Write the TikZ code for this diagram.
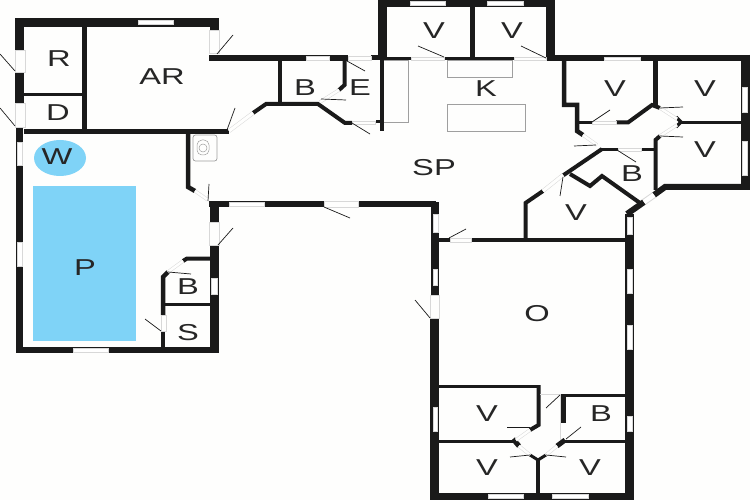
\documentclass[tikz,border=0pt]{standalone}
\usepackage{fontspec}
\setmainfont{Liberation Sans}
\definecolor{wallc}{HTML}{1A1A1A}
\definecolor{paper}{HTML}{FEFEFD}
\definecolor{pool}{HTML}{7FD3F7}
\definecolor{soft}{HTML}{D8D8D8}
\newcommand{\stretched}[1]{\scalebox{1.42}[1]{#1}}
\tikzset{
  wl/.style={draw=wallc,line width=#1,line cap=butt,line join=miter},
  wl/.default=4,
  win/.style={fill=white,draw=soft,line width=.4},
  gap/.style={fill=paper,draw=none},
  dr/.style={draw=soft,line width=.6},
  leaf/.style={draw=wallc,line width=.7},
  fix/.style={draw=gray!75,line width=.7},
  lab/.style={font=\fontsize{23}{23}\selectfont,text=black!85,inner sep=0,anchor=center}
}
\begin{document}
\begin{tikzpicture}[x=1pt,y=-1pt]
\path[use as bounding box,fill=paper] (0,0) rectangle (750,500);
% pool and spa
\fill[pool] (33,186) rectangle (136,341);
\fill[pool] (60,158) ellipse [x radius=26,y radius=18];
% fixtures
\draw[fix,rounded corners=2.5] (193,135) rectangle (217,161);
\draw[fix,line width=.5,rounded corners=5] (197,140) rectangle (209,155);
\draw[fix,line width=.5] (203,148) circle [radius=4];
\draw[fix] (447,60) rectangle (512,77);
\draw[fix] (447,104) rectangle (525,131);
\draw[fix] (384,60) -- (408,60) -- (408,122) -- (376,122);
% west wing outer walls
\draw[wl=9] (19.5,50) -- (19.5,22.5) -- (214,22.5) -- (214,30);
\draw[wl=9] (19.5,72) -- (19.5,103);
\draw[wl=7] (19.5,127) -- (19.5,350);
\draw[wl=6] (16,350) -- (219,350);
\draw[wl=9] (214,245) -- (214,353);
\draw[wl=9] (214,222) -- (214,201);
\draw[wl=6] (209,58) -- (348,58);
\draw[wl=5] (371,58) -- (378,58);
% west wing inner walls
\draw[wl=5] (84.5,25) -- (84.5,131);
\draw[wl=3] (24,94.5) -- (82,94.5);
\draw[wl=5] (24,131.5) -- (229,131.5);
\draw[wl=4.5] (188,132) -- (188,187) -- (195,191);
\draw[wl=6] (209,204) -- (324,204);
\draw[wl=6] (358,204) -- (436,204);
% B / E block
\draw[wl=4] (280,61) -- (280,104);
\draw[wl=4] (253,113) -- (266,104) -- (318,104) -- (345,123) -- (352,123);
\draw[wl=4] (344.5,60) -- (344.5,85) -- (339,90);
% west small rooms
\draw[wl=4.5] (163,347) -- (163,331);
\draw[wl=4.5] (163,315) -- (163,277) -- (168,272);
\draw[wl=4] (183,261) -- (187,258.5) -- (210,258.5);
\draw[wl=3] (165,304.5) -- (210,304.5);
% north rooms
\draw[wl=9] (382.5,60) -- (382.5,3) -- (550.5,3) -- (550.5,59);
\draw[wl=5] (472.5,6) -- (472.5,58);
\draw[wl=3.5] (375,58.5) -- (411,58.5);
\draw[wl=3.5] (444,58.5) -- (514,58.5);
\draw[wl=4.5] (382,60) -- (382,131);
\draw[wl=3] (376,122) -- (384,122);
% east wing
\draw[wl=6] (546,58) -- (750,58);
\draw[wl=9] (745.5,55) -- (745.5,190);
\draw[wl=6] (750,187) -- (665,187) -- (654,195);
\draw[wl=4.5] (564,60) -- (564,105) -- (577,105) -- (577,131) -- (583,135);
\draw[wl=3.5] (577,122.5) -- (592,122.5);
\draw[wl=4] (616,122.5) -- (628,122.5) -- (652,105) -- (660,108);
\draw[wl=4.5] (655.5,60) -- (655.5,105);
\draw[wl=3.5] (676,117) -- (681,122) -- (676,127);
\draw[wl=3.5] (680,122.5) -- (742,122.5);
\draw[wl=4] (660,136) -- (655.5,140) -- (655.5,190);
\draw[wl=3.5] (600,149.5) -- (618,149.5);
\draw[wl=3.5] (641,149.5) -- (655,149.5);
\draw[wl=4] (602,149) -- (563,175.5);
\draw[wl=4] (543,191) -- (525.5,203) -- (525.5,240);
\draw[wl=4] (570,174) -- (590,186) -- (602,176) -- (640,203);
\draw[wl=6] (644,202) -- (627,214);
% south wing
\draw[wl=8] (435,202) -- (435,295);
\draw[wl=9] (434.5,318) -- (434.5,500);
\draw[wl=9] (629,214) -- (629,500);
\draw[wl=7] (430,496.5) -- (633,496.5);
\draw[wl=3.5] (438,240) -- (450,240);
\draw[wl=3.5] (471,240) -- (626,240);
\draw[wl=3.5] (438,386.5) -- (540,386.5);
\draw[wl=4] (538.5,385) -- (538.5,425) -- (530,430);
\draw[wl=3] (438,441.5) -- (515,441.5);
\draw[wl=5] (513,439) -- (519,446);
\draw[wl=3] (563,441.5) -- (625,441.5);
\draw[wl=5] (557,446) -- (565,440);
\draw[wl=3.5] (560,395.5) -- (625,395.5);
\draw[wl=5] (563.5,397) -- (563.5,423);
\draw[wl=3] (530,455) -- (538,460) -- (546,455);
\draw[wl=4] (538,460) -- (538,494);
% windows
\foreach \x/\y/\X/\Y in {138/20/173/24, 306/56/329/60, 229/202/264/206, 73/348/108/352,
  410/1/445/5, 487/1/523/5, 604/57/640/60, 488/494/523/498, 552/494/588/498,
  17/142/22/165, 17/242/22/266, 211/278/217/294, 433/214/438/232, 433/269/437/285,
  433/407/437/431, 742/87/747/112, 742/141/747/175, 627/217/632/234, 627/269/632/293,
  627/325/632/349, 627/416/632/431}
  \path[win] (\x,\y) rectangle (\X,\Y);
% door openings
\foreach \x/\y/\X/\Y in {15/50/25/72, 15/103/25/127, 209/30/219/53, 209/222/219/245,
  430/295/439/318, 161/315/166/331, 348/56/371/60, 324/201/358/207, 352/121/375/124,
  450/238/471/242, 411/57/444/60, 514/57/546/60, 592/121/616/124, 618/148/641/151}
  \path[gap,draw=soft,line width=.4] (\x,\y) rectangle (\X,\Y);
\draw[dr,line width=4,soft] (229,131) -- (253,113);
\draw[line width=3,paper] (229,131) -- (253,113);
\draw[dr,line width=3.4] (339,90) -- (320,102);
\draw[line width=2.4,paper] (339,90) -- (320,102);
\draw[dr,line width=3.4] (195,191) -- (208,200);
\draw[line width=2.4,paper] (195,191) -- (208,200);
\draw[dr,line width=3.4] (168,272) -- (183,261);
\draw[line width=2.4,paper] (168,272) -- (183,261);
\draw[dr,line width=3.4] (583,135) -- (597,145);
\draw[line width=2.4,paper] (583,135) -- (597,145);
\draw[dr,line width=3.4] (660,108) -- (677,119);
\draw[line width=2.4,paper] (660,108) -- (677,119);
\draw[dr,line width=3.4] (677,125) -- (660,136);
\draw[line width=2.4,paper] (677,125) -- (660,136);
\draw[dr,line width=4] (563,175) -- (543,191);
\draw[line width=3,paper] (563,175) -- (543,191);
\draw[dr,line width=6.5] (654,195) -- (644,202);
\draw[line width=4.5,white] (654,195) -- (644,202);
\draw[dr,line width=3.4] (530,430) -- (516,440);
\draw[line width=2.4,paper] (530,430) -- (516,440);
\draw[dr,line width=3.4] (519,446) -- (530,455);
\draw[line width=2.4,paper] (519,446) -- (530,455);
\draw[dr,line width=3.4] (557,446) -- (546,455);
\draw[line width=2.4,paper] (557,446) -- (546,455);
\draw[dr] (540,394) -- (560,394) -- (560,440);
% door leaves
\foreach \a/\b/\c/\d in {217/54/233/35, 15/71/0/54, 15/126/0/108, 227/130/235/108,
  321/99/346/100, 352/123/370/134, 347/61/365/71, 208/201/209/184, 324/207/350/218,
  218/245/233/228, 161/331/145/319, 168/272/191/274, 418/46/444/57, 521/46/546/58,
  574/146/596/145, 660/108/683/107, 592/122/610/110, 660/136/683/137, 617/150/636/162,
  563/177/560/196, 449/238/466/229, 430/318/415/300, 560/395/546/408, 566/439/581/427,
  510/457/530/455, 546/455/566/457, 507/427/530/427}
  \draw[leaf] (\a,\b) -- (\c,\d);
% labels
\node[lab] (r) at (59,59) {\stretched{R}};
\node[lab] (ar) at (162,77) {\stretched{AR}};
\node[lab] (d) at (58,113) {\stretched{D}};
\node[lab] (w) at (57,157) {\stretched{W}};
\node[lab] (p) at (85,268) {\stretched{P}};
\node[lab] (b1) at (188,287) {\stretched{B}};
\node[lab] (s) at (188,333) {\stretched{S}};
\node[lab] (b2) at (305,88) {\stretched{B}};
\node[lab] (e) at (360,88) {\stretched{E}};
\node[lab] (sp) at (434,168) {\stretched{SP}};
\node[lab] (k) at (486,89) {\stretched{K}};
\node[lab] (v1) at (434,31) {\stretched{V}};
\node[lab] (v2) at (512,31) {\stretched{V}};
\node[lab] (v3) at (615,89) {\stretched{V}};
\node[lab] (v4) at (705,89) {\stretched{V}};
\node[lab] (v5) at (705,150) {\stretched{V}};
\node[lab] (b3) at (632,174) {\stretched{B}};
\node[lab] (v6) at (576,213) {\stretched{V}};
\node[lab] (o) at (537,314) {\stretched{O}};
\node[lab] (v7) at (487,414) {\stretched{V}};
\node[lab] (b4) at (601,414) {\stretched{B}};
\node[lab] (v8) at (487,468) {\stretched{V}};
\node[lab] (v9) at (590,468) {\stretched{V}};
\end{tikzpicture}
\end{document}
